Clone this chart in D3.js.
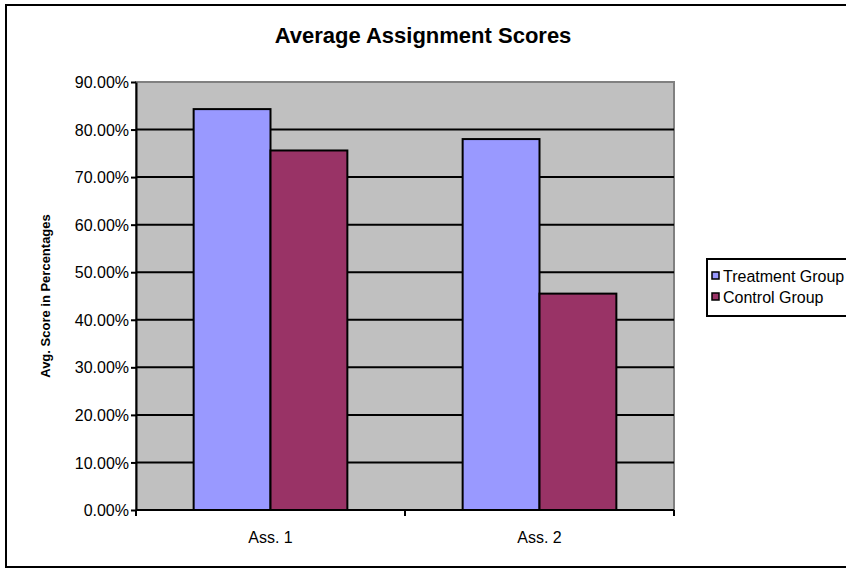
<!DOCTYPE html>
<html>
<head>
<meta charset="utf-8">
<script src="https://cdn.jsdelivr.net/npm/d3@7/dist/d3.min.js"></script>
<style>
html,body{margin:0;padding:0;background:#fff;}
svg{display:block;font-family:Arial,"Liberation Sans",sans-serif;}
</style>
</head>
<body>
<svg id="chart" width="846" height="570"></svg>
<script>
const categories = ["Ass. 1", "Ass. 2"];
const seriesNames = ["Treatment Group", "Control Group"];
const treatmentValues = [0.843, 0.780];
const controlValues = [0.756, 0.455];
const yTicks = [0, 0.1, 0.2, 0.3, 0.4, 0.5, 0.6, 0.7, 0.8, 0.9];
const colors = ["#9999FF", "#993366"];

const svg = d3.select("#chart");
const plot = {left: 136, right: 674, top: 82, bottom: 510};
const FONT = "Arial, 'Liberation Sans', sans-serif";

// outer border
svg.append("rect").attr("x", 6).attr("y", 5).attr("width", 860).attr("height", 562)
  .attr("fill", "#fff").attr("stroke", "#000").attr("stroke-width", 2);

// title
svg.append("text").attr("x", 423).attr("y", 43).attr("text-anchor", "middle")
  .style("font-size", "22px").attr("font-weight", "bold").text("Average Assignment Scores");

const y = d3.scaleLinear().domain([0, 0.9]).range([plot.bottom, plot.top]);
const x0 = d3.scaleBand().domain(categories).range([plot.left, plot.right]).paddingInner(0).paddingOuter(0);
const x1 = d3.scaleBand().domain(seriesNames).range([0, x0.bandwidth()]).paddingInner(0).paddingOuter(0.75);

// plot background
svg.append("rect").attr("x", plot.left).attr("y", plot.top)
  .attr("width", plot.right - plot.left).attr("height", plot.bottom - plot.top)
  .attr("fill", "#C0C0C0").attr("stroke", "#808080").attr("stroke-width", 2);

// gridlines
svg.append("g").selectAll("line").data(yTicks.filter(d => d > 0 && d < 0.9)).join("line")
  .attr("x1", plot.left).attr("x2", plot.right)
  .attr("y1", d => y(d)).attr("y2", d => y(d))
  .attr("stroke", "#000").attr("stroke-width", 2);

// bars
const data = [];
categories.forEach((c, i) => {
  data.push({cat: c, s: seriesNames[0], v: treatmentValues[i], col: colors[0]});
  data.push({cat: c, s: seriesNames[1], v: controlValues[i], col: colors[1]});
});
svg.append("g").selectAll("rect").data(data).join("rect")
  .attr("x", d => x0(d.cat) + x1(d.s))
  .attr("y", d => y(d.v))
  .attr("width", x1.bandwidth())
  .attr("height", d => plot.bottom - y(d.v))
  .attr("fill", d => d.col).attr("stroke", "#000").attr("stroke-width", 2);

// y axis
const yAxis = d3.axisLeft(y).tickValues(yTicks).tickFormat(d3.format(".2%")).tickSize(5).tickSizeOuter(0);
const gy = svg.append("g").attr("transform", `translate(${plot.left},0)`).call(yAxis);
gy.attr("font-size", null).attr("font-family", null);
gy.select(".domain").attr("stroke", "#000").attr("stroke-width", 2);
gy.selectAll(".tick line").attr("stroke", "#000").attr("stroke-width", 2);
gy.selectAll(".tick text").style("font-size", "16px").style("font-family", FONT)
  .attr("fill", "#000").attr("x", -7).attr("dy", "0.35em");

// x axis
const xTickScale = d3.scaleLinear().domain([0, categories.length]).range([plot.left, plot.right]);
const gx = svg.append("g").attr("transform", `translate(0,${plot.bottom})`);
gx.append("line").attr("x1", plot.left).attr("x2", plot.right).attr("stroke", "#000").attr("stroke-width", 2);
gx.selectAll("line.tk").data(d3.range(categories.length + 1)).join("line").attr("class", "tk")
  .attr("x1", d => xTickScale(d)).attr("x2", d => xTickScale(d))
  .attr("y1", 0).attr("y2", 6).attr("stroke", "#000").attr("stroke-width", 2);
gx.selectAll("text").data(categories).join("text")
  .attr("x", d => x0(d) + x0.bandwidth() / 2).attr("y", 33)
  .attr("text-anchor", "middle").style("font-size", "16px").text(d => d);

// y axis title
svg.append("text").attr("transform", "translate(50,296) rotate(-90)")
  .attr("text-anchor", "middle").style("font-size", "13px").attr("font-weight", "bold")
  .text("Avg. Score in Percentages");

// legend
const lg = svg.append("g");
lg.append("rect").attr("x", 707).attr("y", 259).attr("width", 160).attr("height", 57)
  .attr("fill", "#fff").attr("stroke", "#000").attr("stroke-width", 2);
seriesNames.forEach((s, i) => {
  const yy = 276 + i * 21;
  lg.append("rect").attr("x", 712).attr("y", yy - 4).attr("width", 7).attr("height", 7)
    .attr("fill", colors[i]).attr("stroke", "#000").attr("stroke-width", 1.5);
  lg.append("text").attr("x", 723).attr("y", yy).attr("dy", "0.35em")
    .style("font-size", "16px").text(s);
});
</script>
</body>
</html>
